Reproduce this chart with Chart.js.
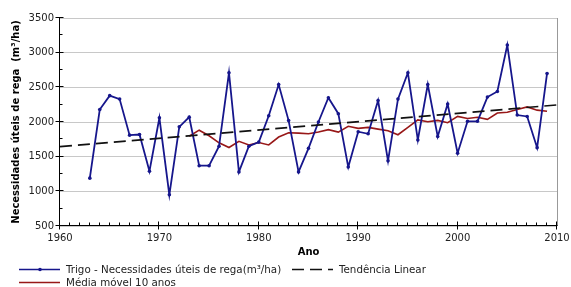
<!DOCTYPE html>
<html>
<head>
<meta charset="utf-8">
<script src="https://cdn.jsdelivr.net/npm/chart.js@4"></script>
<style>
  html, body { margin: 0; padding: 0; background: #fff; }
  #wrap { width: 571px; height: 287px; }
</style>
</head>
<body>
<div id="wrap"><canvas id="regaChart" width="571" height="287"></canvas></div>
<script>
const years = [1963, 1964, 1965, 1966, 1967, 1968, 1969, 1970, 1971, 1972,
    1973, 1974, 1975, 1976, 1977, 1978, 1979, 1980, 1981, 1982,
    1983, 1984, 1985, 1986, 1987, 1988, 1989, 1990, 1991, 1992,
    1993, 1994, 1995, 1996, 1997, 1998, 1999, 2000, 2001, 2002,
    2003, 2004, 2005, 2006, 2007, 2008, 2009];
const rega = [1190, 2180, 2380, 2330, 1810, 1820, 1290, 2060, 950, 1930,
    2070, 1370, 1370, 1650, 2710, 1280, 1650, 1710, 2090, 2540,
    2020, 1280, 1620, 2000, 2350, 2120, 1350, 1860, 1830, 2310,
    1440, 2330, 2710, 1740, 2540, 1790, 2260, 1550, 2010, 2010,
    2360, 2440, 3110, 2100, 2080, 1630, 2700];

const mediaYears = [1973, 1974, 1975, 1976, 1977, 1978, 1979, 1980, 1981, 1982,
    1983, 1984, 1985, 1986, 1987, 1988, 1989, 1990, 1991, 1992,
    1993, 1994, 1995, 1996, 1997, 1998, 1999, 2000, 2001, 2002,
    2003, 2004, 2005, 2006, 2007, 2008, 2009];
const media = [1794, 1882, 1801, 1700, 1632, 1722, 1668, 1704, 1669, 1783,
    1844, 1839, 1830, 1855, 1890, 1854, 1938, 1908, 1923, 1897,
    1874, 1816, 1921, 2030, 2004, 2023, 1990, 2081, 2050, 2068,
    2038, 2130, 2141, 2181, 2217, 2171, 2155];

const trendYears = [1960, 2010];
const trend = [1645, 2245];

const seriesNames = ['Trigo - Necessidades úteis de rega(m³/ha)', 'Média móvel 10 anos', 'Tendência Linear'];

const FONT = 'DejaVu Sans';
const toPoints = (xs, ys) => xs.map((x, i) => ({x: x, y: ys[i]}));

// axis lines, crossing major ticks, inner minor ticks, and the legend
const frame = {
    id: 'frame',
    afterDraw(chart) {
        const {ctx, chartArea: a, scales: {x, y}} = chart;
        ctx.save();
        ctx.lineWidth = 1;
        ctx.strokeStyle = '#999';
        ctx.beginPath();
        ctx.moveTo(Math.round(a.right) + 0.5, a.top);
        ctx.lineTo(Math.round(a.right) + 0.5, a.bottom);
        ctx.stroke();

        ctx.strokeStyle = '#000';
        const lx = Math.round(a.left) - 0.5;
        const by = Math.round(a.bottom) - 0.5;
        ctx.beginPath();
        ctx.moveTo(lx, a.top);
        ctx.lineTo(lx, by);
        ctx.lineTo(Math.round(a.right) + 0.5, by);
        for (let v = 500; v <= 3500; v += 250) {
            const py = Math.round(y.getPixelForValue(v)) - 0.5;
            if (v % 500 === 0) { ctx.moveTo(lx - 4, py); ctx.lineTo(lx + 4, py); }
            else { ctx.moveTo(lx, py); ctx.lineTo(lx + 3, py); }
        }
        for (let yr = 1960; yr <= 2010; yr++) {
            const px = Math.round(x.getPixelForValue(yr)) - 0.5;
            if (yr % 10 === 0) { ctx.moveTo(px, by - 4); ctx.lineTo(px, by + 4); }
            else { ctx.moveTo(px, by); ctx.lineTo(px, by - 3); }
        }
        ctx.stroke();

        // legend
        const ds = chart.data.datasets;
        const rows = [
            {ds: ds[0], x: 19, y: 269, marker: true},
            {ds: ds[1], x: 19, y: 282},
            {ds: ds[2], x: 292, y: 269}
        ];
        ctx.font = '10.3px "' + FONT + '"';
        ctx.textBaseline = 'middle';
        rows.forEach(r => {
            ctx.strokeStyle = r.ds.borderColor;
            ctx.lineWidth = 1.6;
            ctx.setLineDash(r.ds.borderDash || []);
            ctx.beginPath();
            ctx.moveTo(r.x, r.y + 0.5);
            ctx.lineTo(r.x + 41, r.y + 0.5);
            ctx.stroke();
            ctx.setLineDash([]);
            if (r.marker) {
                ctx.fillStyle = r.ds.borderColor;
                ctx.beginPath();
                ctx.arc(r.x + 21, r.y + 0.5, 1.8, 0, Math.PI * 2);
                ctx.fill();
            }
            ctx.fillStyle = '#222';
            ctx.fillText(r.ds.label, r.x + 47, r.y + 1);
        });
        ctx.restore();
    }
};

const config = {
    type: 'line',
    data: {
        datasets: [{
            label: seriesNames[0],
            data: toPoints(years, rega),
            borderColor: '#16168c',
            backgroundColor: '#16168c',
            borderWidth: 1.8,
            pointRadius: 1.8,
            pointStyle: 'circle',
            pointBorderWidth: 0,
            tension: 0,
            order: 1
        }, {
            label: seriesNames[1],
            data: toPoints(mediaYears, media),
            borderColor: '#981818',
            borderWidth: 1.6,
            pointRadius: 0,
            tension: 0,
            order: 2
        }, {
            label: seriesNames[2],
            data: toPoints(trendYears, trend),
            borderColor: '#111',
            borderWidth: 1.6,
            borderDash: [12, 6],
            pointRadius: 0,
            order: 0
        }]
    },
    options: {
        responsive: false,
        animation: false,
        events: [],
        layout: {
            padding: {left: 0, right: 14, top: 18, bottom: 29}
        },
        plugins: {
            legend: {display: false},
            tooltip: {enabled: false}
        },
        scales: {
            x: {
                type: 'linear',
                min: 1960,
                max: 2010,
                grid: {display: false, drawTicks: false},
                border: {display: false},
                ticks: {
                    stepSize: 10,
                    padding: 6,
                    color: '#222',
                    font: {family: FONT, size: 10},
                    callback: v => String(v)
                },
                title: {
                    display: true,
                    text: 'Ano',
                    color: '#000',
                    font: {family: FONT, size: 10, weight: 'bold'},
                    padding: {top: 0, bottom: 0}
                },
                afterFit: s => { s.height = 32; s.paddingLeft = 0; s.paddingRight = 0; }
            },
            y: {
                min: 500,
                max: 3500,
                grid: {color: '#c8c8c8', lineWidth: 1, drawTicks: false},
                border: {display: false},
                ticks: {
                    stepSize: 500,
                    padding: 6,
                    color: '#222',
                    font: {family: FONT, size: 10},
                    callback: v => String(v)
                },
                title: {
                    display: true,
                    text: 'Necessidades úteis de rega  (m³/ha)',
                    color: '#000',
                    font: {family: FONT, size: 10, weight: 'bold'},
                    padding: {top: 10, bottom: 0}
                },
                afterFit: s => { s.width = 60; s.paddingTop = 0; s.paddingBottom = 0; }
            }
        }
    },
    plugins: [frame]
};

const regaChart = new Chart(document.getElementById('regaChart'), config);
</script>
</body>
</html>
